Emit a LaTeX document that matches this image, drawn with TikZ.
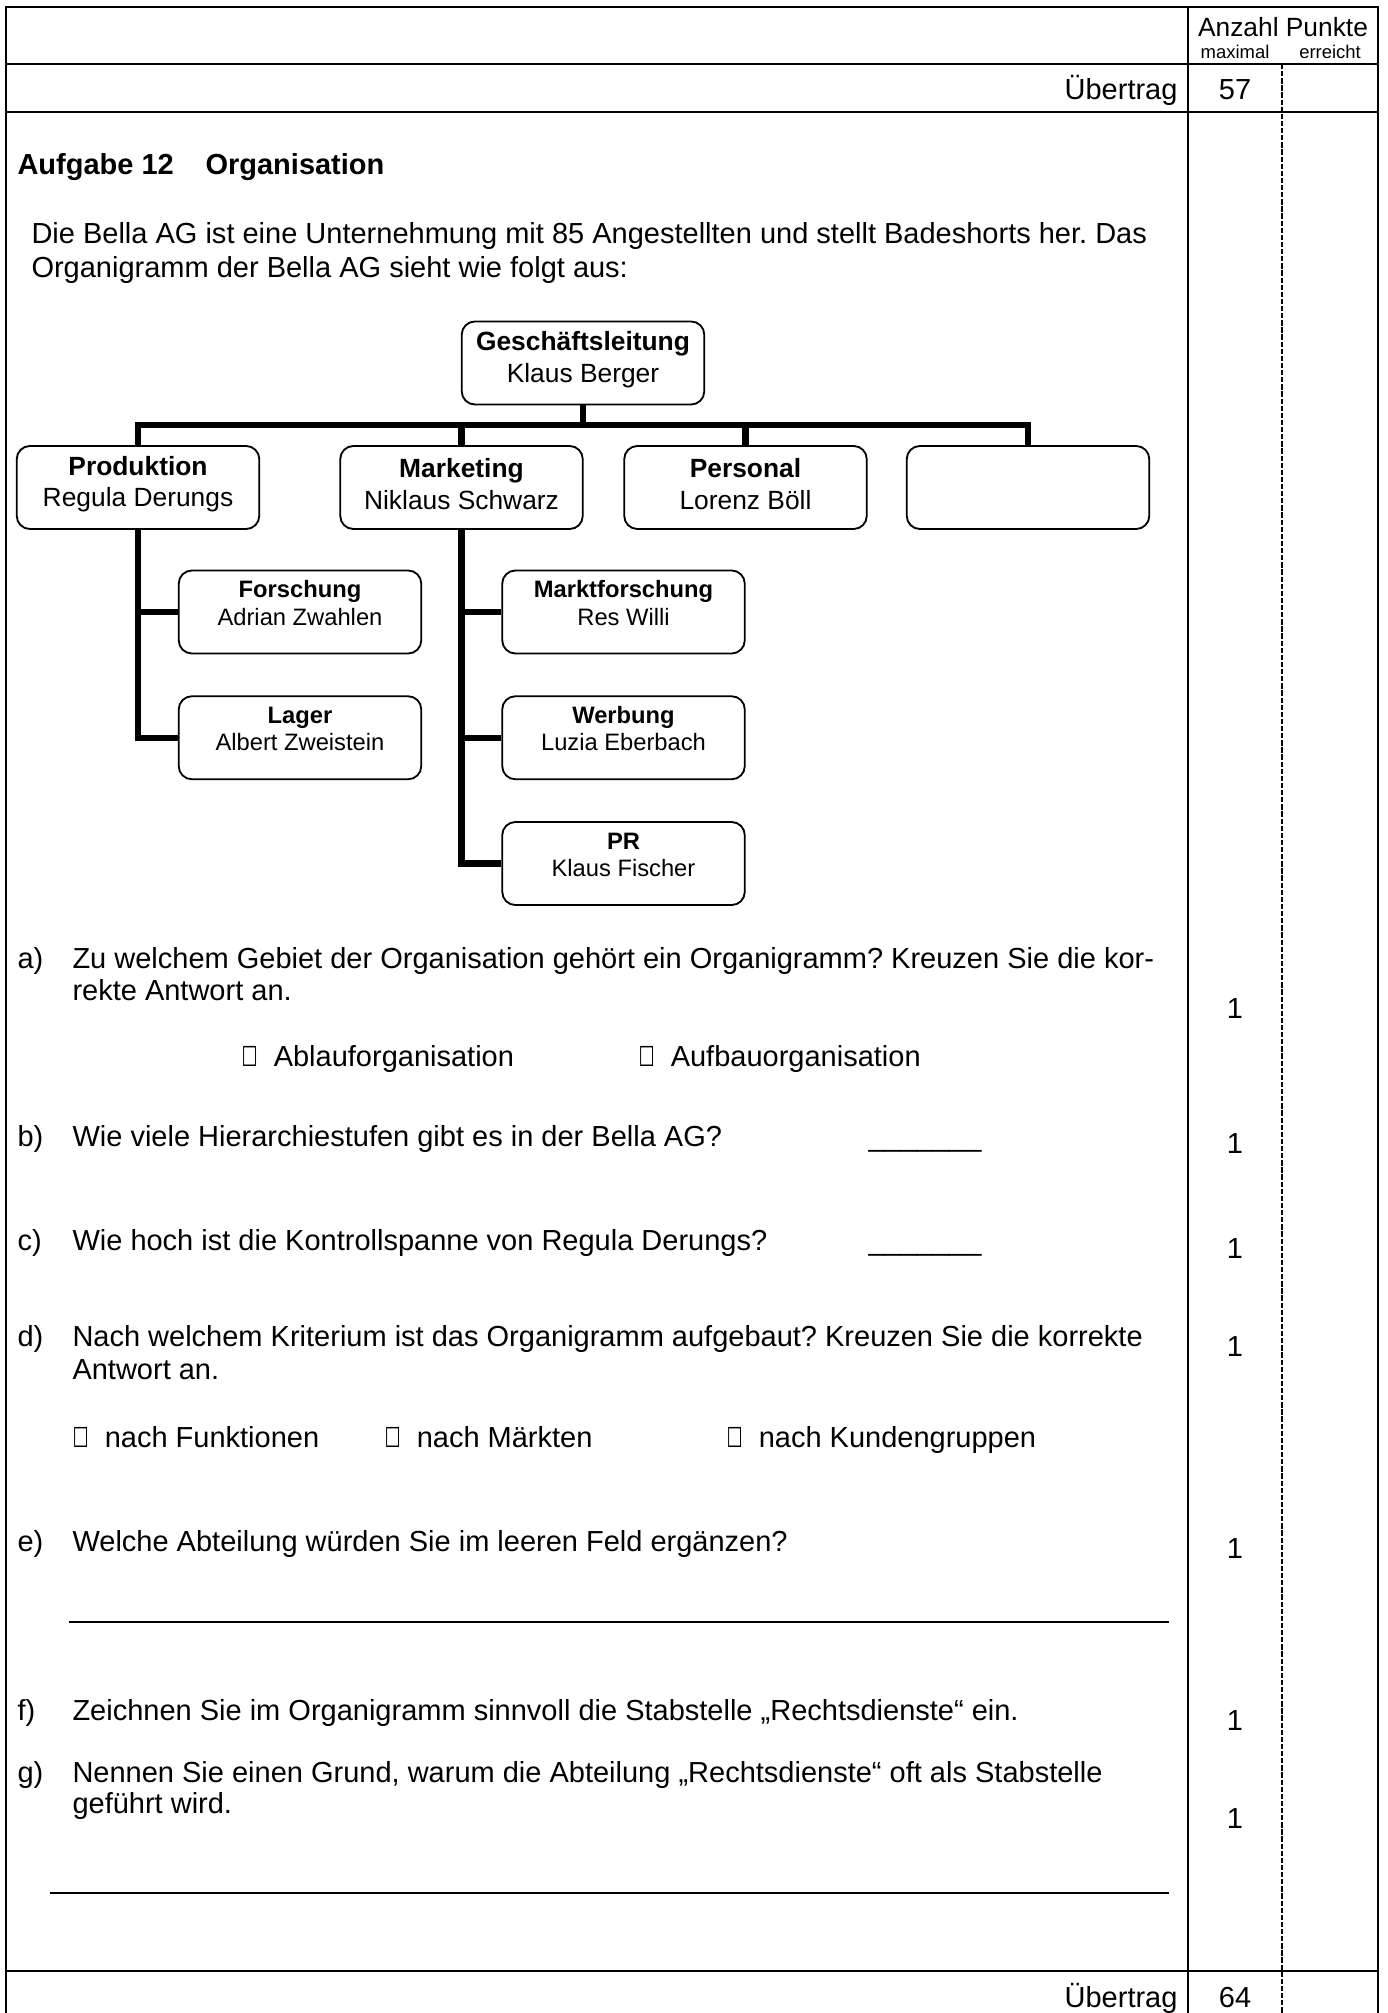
\documentclass[tikz,border=0pt]{standalone}
\usepackage{fontspec}
\setmainfont{Liberation Sans}
\newfontfamily\symfont{DejaVu Sans}
\usetikzlibrary{positioning}
\newcommand{\kbox}{{\symfont\scalebox{0.62}[0.95]{☐}}}
\frenchspacing

\begin{document}
\begin{tikzpicture}[x=0.3793pt,y=-0.3793pt,
    font=\fontsize{11}{13}\selectfont,
    frame/.style={line width=0.75pt},
    rahmen/.style={draw, rounded corners=5pt, line width=0.7pt, inner sep=0pt,
      minimum width=92pt, minimum height=31.5pt},
    box/.style 2 args={rahmen, label={[align=center, inner sep=0pt,
      font=\fontsize{10}{12}\selectfont, yshift=1.2pt]center:{\textbf{#1}\\#2}}},
    subbox/.style 2 args={rahmen, label={[align=center, inner sep=0pt,
      font=\fontsize{9}{10.3}\selectfont, yshift=3.4pt]center:{\textbf{#1}\\#2}}},
    orgline/.style={line width=2.3pt},
    txt/.style={anchor=base west, inner sep=0pt},
    pts/.style={anchor=base, inner sep=0pt}]
  \useasboundingbox (0,0) rectangle (1387,2013);
  \draw[frame] (6,2013) -- (6,7) -- (1378,7) -- (1378,2013);
  \draw[frame] (1188,7) -- (1188,2013);
  \draw[line width=0.5pt, dash pattern=on 2pt off 0.7pt] (1282,64) -- (1282,2013);
  \draw[frame] (6,64) -- (1378,64) (6,112) -- (1378,112);
  \draw[line width=1.1pt] (6,1971) -- (1378,1971);

  \node[pts, font=\fontsize{10}{12}\selectfont] (anz) at (1283,37) {Anzahl Punkte};
  \node[pts, font=\fontsize{7}{8}\selectfont] (max) at (1235,59) {maximal};
  \node[pts, font=\fontsize{7}{8}\selectfont] (err) at (1330,59) {erreicht};
  \node[txt, anchor=base east] (ueb1) at (1178,100) {Übertrag};
  \node[pts] (sum1) at (1235,100) {57};

  \node[txt] (auf) at (17,175) {\textbf{Aufgabe 12}};
  \node[txt] (thema) at (205,175) {\textbf{Organisation}};
  \node[txt] (intro1) at (31,244) {Die Bella AG ist eine Unternehmung mit 85 Angestellten und stellt Badeshorts her. Das};
  \node[txt] (intro2) at (31,278) {Organigramm der Bella AG sieht wie folgt aus:};

  \node[box={Geschäftsleitung}{Klaus Berger}] (gl) at (583,363) {};
  \node[box={Produktion}{Regula Derungs}] (prod) at (138,487.5) {};
  \node[box={Marketing}{Niklaus Schwarz}] (mark) at (461.5,487.5) {};
  \node[box={Personal}{Lorenz Böll}] (pers) at (745.5,487.5) {};
  \node[rahmen] (leer) at (1028,487.5) {};
  \node[subbox={Forschung}{Adrian Zwahlen}] (forsch) at (300,612) {};
  \node[subbox={Lager}{Albert Zweistein}, below=15.5pt of forsch] (lager) {};
  \node[subbox={Marktforschung}{Res Willi}] (mafo) at (623.5,612) {};
  \node[subbox={Werbung}{Luzia Eberbach}, below=15.5pt of mafo] (werb) {};
  \node[subbox={PR}{Klaus Fischer}, below=15.5pt of werb] (pr) {};
  \coordinate (bar) at (583,425);

  \draw[orgline] (gl.south) -- (gl.south |- bar);
  \draw[orgline] (prod.north) |- (leer.north |- bar) -- (leer.north);
  \draw[orgline] (mark.north) -- (mark.north |- bar);
  \draw[orgline] (pers.north) -- (pers.north |- bar);
  \draw[orgline] (prod.south) |- (lager.west);
  \draw[orgline] (prod.south |- forsch.west) -- (forsch.west);
  \draw[orgline] (mark.south) |- (pr.west);
  \foreach \b in {mafo,werb}
    \draw[orgline] (mark.south |- \b.west) -- (\b.west);

  \node[txt] (la) at (17,968) {a)};
  \node[txt] (qa) at (72,968) {Zu welchem Gebiet der Organisation gehört ein Organigramm? Kreuzen Sie die kor-};
  \node[txt] (qa2) at (72,1000) {rekte Antwort an.};
  \node[txt] (ka1) at (241,1066) {\kbox\ \ Ablauforganisation};
  \node[txt] (ka2) at (638,1066) {\kbox\ \ Aufbauorganisation};

  \node[txt] (lb) at (17,1146) {b)};
  \node[txt] (qb) at (72,1146) {Wie viele Hierarchiestufen gibt es in der Bella AG?};
  \node[txt] (ub) at (868,1146) {\_\_\_\_\_\_\_};

  \node[txt] (lc) at (17,1250) {c)};
  \node[txt] (qc) at (72,1250) {Wie hoch ist die Kontrollspanne von Regula Derungs?};
  \node[txt] (uc) at (868,1250) {\_\_\_\_\_\_\_};

  \node[txt] (ld) at (17,1346) {d)};
  \node[txt] (qd) at (72,1346) {Nach welchem Kriterium ist das Organigramm aufgebaut? Kreuzen Sie die korrekte};
  \node[txt] (qd2) at (72,1379) {Antwort an.};
  \node[txt] (kd1) at (72,1447) {\kbox\ \ nach Funktionen};
  \node[txt] (kd2) at (384,1447) {\kbox\ \ nach Märkten};
  \node[txt] (kd3) at (726,1447) {\kbox\ \ nach Kundengruppen};

  \node[txt] (le) at (17,1551) {e)};
  \node[txt] (qe) at (72,1551) {Welche Abteilung würden Sie im leeren Feld ergänzen?};
  \draw[line width=0.9pt] (69,1622) -- (1169,1622);

  \node[txt] (lf) at (17,1720) {f)};
  \node[txt] (qf) at (72,1720) {Zeichnen Sie im Organigramm sinnvoll die Stabstelle „Rechtsdienste“ ein.};

  \node[txt] (lg) at (17,1782) {g)};
  \node[txt] (qg) at (72,1782) {Nennen Sie einen Grund, warum die Abteilung „Rechtsdienste“ oft als Stabstelle};
  \node[txt] (qg2) at (72,1813) {geführt wird.};
  \draw[line width=0.9pt] (50,1893) -- (1169,1893);

  \foreach \y [count=\i] in {1018,1153,1258,1356,1558,1730,1828}
    \node[pts] (p\i) at (1235,\y) {1};

  \node[txt, anchor=base east] (ueb2) at (1178,2007) {Übertrag};
  \node[pts] (sum2) at (1235,2007) {64};
\end{tikzpicture}
\end{document}
